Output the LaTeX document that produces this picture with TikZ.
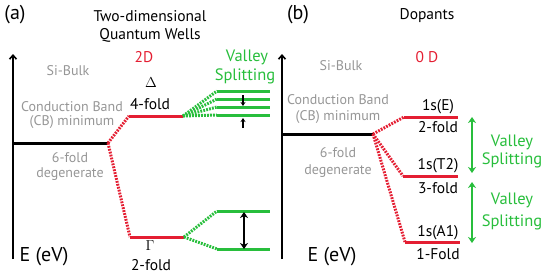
\documentclass[tikz,border=0pt]{standalone}
\usepackage{fontspec}
\setmainfont{PT Sans}
\usetikzlibrary{arrows.meta}
\definecolor{lvlred}{RGB}{228,30,50}
\definecolor{vsgreen}{RGB}{40,190,60}
\definecolor{bulkgray}{RGB}{150,150,150}

\begin{document}
\begin{tikzpicture}[x=1pt,y=-1pt,
  bulk/.style={line width=3pt},
  lvl/.style={lvlred,line width=3pt},
  dotlvl/.style={lvlred,line width=3pt,dash pattern=on 1.8pt off 1.2pt},
  vs/.style={vsgreen,line width=3pt},
  dotvs/.style={vsgreen,line width=3pt,dash pattern=on 1.8pt off 1.2pt},
  txt/.style={inner sep=0pt,font=\fontsize{15.5}{15.5}\selectfont},
  gtxt/.style={inner sep=0pt,bulkgray,font=\fontsize{14}{14}\selectfont},
  vtxt/.style={inner sep=0pt,vsgreen,font=\fontsize{16.5}{16.5}\selectfont},
  big/.style={inner sep=0pt,font=\fontsize{20}{20}\selectfont}]
\useasboundingbox (0,0) rectangle (550,279);

% (a) quantum wells
\node[big] (la) at (15,15) {(a)};
\node[txt] (ta1) at (150,16) {Two-dimensional};
\node[txt] (ta2) at (150,35) {Quantum Wells};
\node[txt,lvlred] (dim2) at (144,57) {2D};
\node[gtxt] (sia) at (68,71) {Si-Bulk};
\node[gtxt] (cba1) at (72,107) {Conduction Band};
\node[gtxt] (cba2) at (72,122) {(CB) minimum};
\node[gtxt] (dga1) at (70,158) {6-fold};
\node[gtxt] (dga2) at (70,174) {degenerate};
\node[txt,font=\fontsize{13.5}{13.5}\selectfont] (delta) at (151,83) {$\Delta$};
\node[txt] (fold4) at (150,104) {4-fold};
\node[txt,font=\fontsize{15.5}{15.5}\selectfont] (gamma) at (150,246) {$\Gamma$};
\node[txt] (fold2) at (151,265) {2-fold};
\node[vtxt] (vsa1) at (247,57) {Valley};
\node[vtxt] (vsa2) at (245,76) {Splitting};
\node[big] (ea) at (44,257) {E (eV)};

\coordinate (axa0) at (13,259);
\coordinate (axa1) at (13,54);
\draw[line width=1.6pt,-{Straight Barb[length=4pt,width=7pt]}] (axa0)--(axa1);
\coordinate (ba0) at (12,143);
\coordinate (ba1) at (108,143);
\draw[bulk] (ba0)--(ba1);
\coordinate (d0) at (129,116);
\coordinate (d1) at (183,116);
\coordinate (g0) at (130,237);
\coordinate (g1) at (184,237);
\draw[dotlvl] (ba1)--(d0);
\draw[dotlvl] (ba1)--(g0);
\draw[lvl] (d0)--(d1);
\draw[lvl] (g0)--(g1);
\foreach \i/\y in {1/91,2/99,3/107,4/115}{
  \coordinate (vd\i) at (217,\y);
  \coordinate (ve\i) at (270,\y);
  \draw[dotvs] (d1)--(vd\i);
  \draw[vs] (vd\i)--(ve\i);
}
\foreach \i/\y in {1/211,2/249}{
  \coordinate (vg\i) at (217,\y);
  \coordinate (vh\i) at (270,\y);
  \draw[dotvs] (g1)--(vg\i);
  \draw[vs] (vg\i)--(vh\i);
}
\coordinate (sa0) at (243,95);
\coordinate (sa1) at (243,106);
\coordinate (sb0) at (243,128);
\coordinate (sb1) at (243,118);
\draw[line width=1.4pt,-{Stealth[length=4pt,width=5pt]}] (sa0)--(sa1);
\draw[line width=1.4pt,-{Stealth[length=4pt,width=5pt]}] (sb0)--(sb1);
\coordinate (ga0) at (244,212);
\coordinate (ga1) at (244,249);
\draw[line width=2.4pt,{Stealth[length=6pt,width=8pt]}-{Stealth[length=6pt,width=8pt]}] (ga0)--(ga1);

% (b) dopants
\node[big] (lb) at (298,15) {(b)};
\node[txt] (tb) at (427,16) {Dopants};
\node[txt,lvlred] (dim0) at (427,57) {0 D};
\node[gtxt] (sib) at (341,66) {Si-Bulk};
\node[gtxt] (cbb1) at (338,100) {Conduction Band};
\node[gtxt] (cbb2) at (338,117) {(CB) minimum};
\node[gtxt] (dgb1) at (338,153) {6-fold};
\node[gtxt] (dgb2) at (338,171) {degenerate};
\node[txt] (se) at (438,107) {1s(E)};
\node[txt] (se2) at (438,127) {2-fold};
\node[txt] (st) at (438,166) {1s(T2)};
\node[txt] (st2) at (438,188) {3-fold};
\node[txt] (sa) at (438,233) {1s(A1)};
\node[txt] (sa2) at (438,254) {1-Fold};
\node[vtxt] (vsb1) at (512,142) {Valley};
\node[vtxt] (vsb2) at (512,160) {Splitting};
\node[vtxt] (vsb3) at (512,200) {Valley};
\node[vtxt] (vsb4) at (512,222) {Splitting};
\node[big] (eb) at (332,257) {E (eV)};

\coordinate (axb0) at (282,259);
\coordinate (axb1) at (282,54);
\draw[line width=1.6pt,-{Straight Barb[length=4pt,width=7pt]}] (axb0)--(axb1);
\coordinate (bb0) at (281,134);
\coordinate (bb1) at (373,134);
\draw[bulk] (bb0)--(bb1);
\coordinate (e0) at (404,117);
\coordinate (e1) at (458,117);
\coordinate (t0) at (403,176);
\coordinate (t1) at (458,176);
\coordinate (a0) at (405,242);
\coordinate (a1) at (460,242);
\draw[dotlvl] (bb1)--(e0);
\draw[dotlvl] (bb1)--(t0);
\draw[dotlvl] (bb1)--(a0);
\draw[lvl] (e0)--(e1);
\draw[lvl] (t0)--(t1);
\draw[lvl] (a0)--(a1);
\coordinate (va0) at (472,117);
\coordinate (va1) at (472,173);
\coordinate (vb0) at (472,182);
\coordinate (vb1) at (472,243);
\draw[vsgreen,line width=2.4pt,{Stealth[length=6pt,width=8pt]}-{Stealth[length=6pt,width=8pt]}] (va0)--(va1);
\draw[vsgreen,line width=2.4pt,{Stealth[length=6pt,width=8pt]}-{Stealth[length=6pt,width=8pt]}] (vb0)--(vb1);
\end{tikzpicture}
\end{document}
